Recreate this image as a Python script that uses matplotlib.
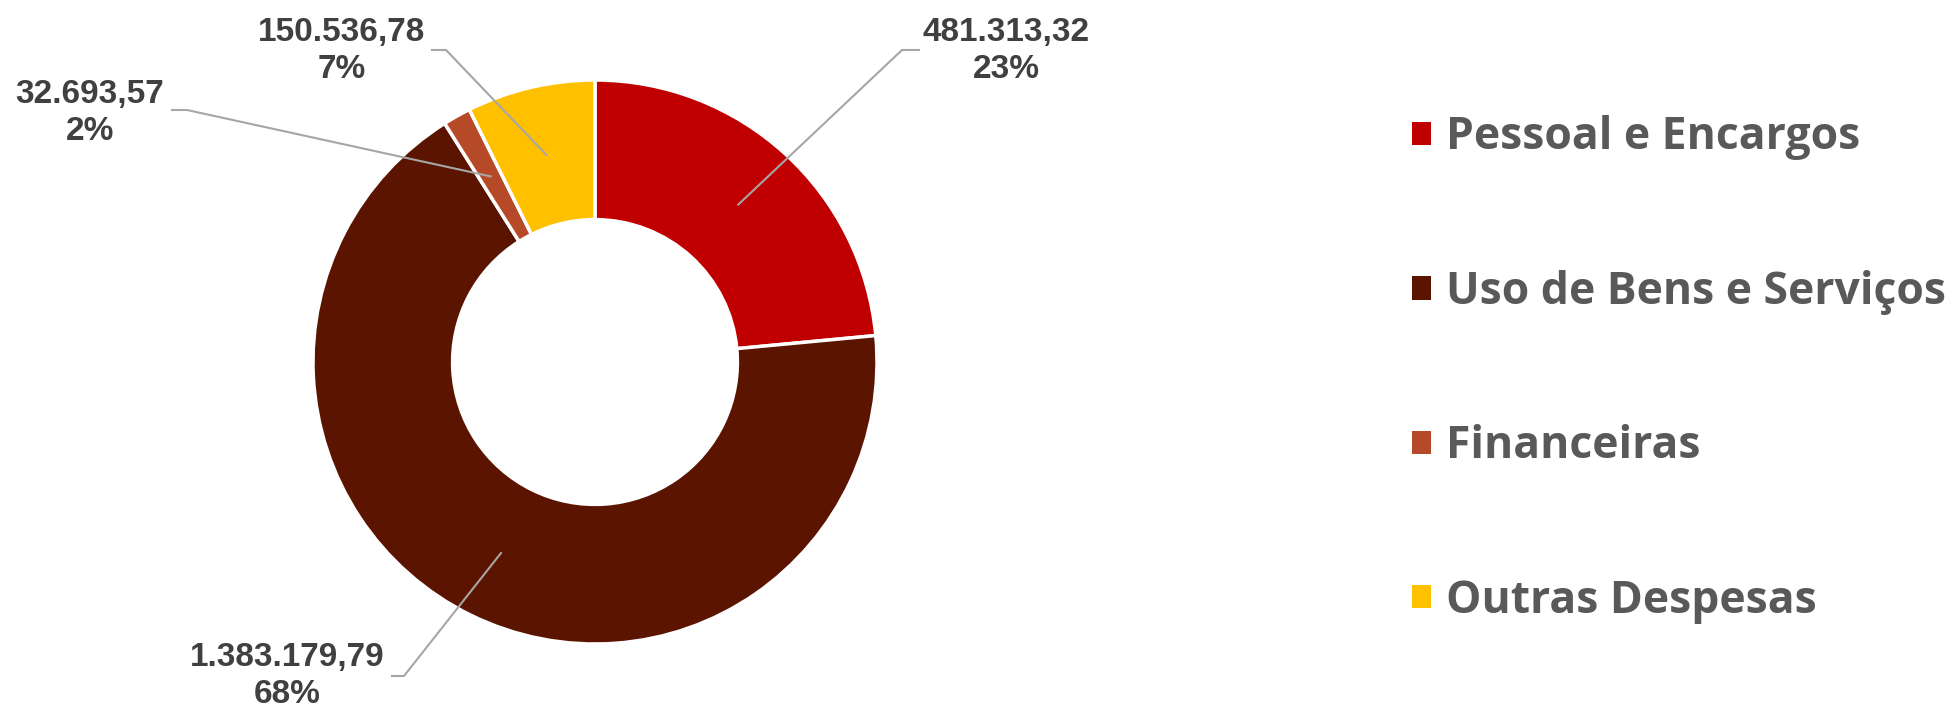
import matplotlib
matplotlib.use("Agg")
import matplotlib.pyplot as plt
from matplotlib.patches import Patch
import numpy as np

categories = ["Pessoal e Encargos", "Uso de Bens e Serviços", "Financeiras", "Outras Despesas"]
values = [481313.32, 1383179.79, 32693.57, 150536.78]
value_labels = ["481.313,32", "1.383.179,79", "32.693,57", "150.536,78"]
pct_labels = ["23%", "68%", "2%", "7%"]
colors = ["#C00000", "#5A1400", "#B64A28", "#FFC000"]

W, H = 1959, 707
fig = plt.figure(figsize=(W / 100, H / 100), dpi=100)

cx, cy, R = 595, 362, 282
ax = fig.add_axes([(cx - R) / W, (H - cy - R) / H, 2 * R / W, 2 * R / H])

wedges, _ = ax.pie(values, colors=colors, startangle=90, counterclock=False, radius=1,
                   wedgeprops=dict(width=0.495, edgecolor="white", linewidth=2.5))
ax.set_xlim(-1, 1)
ax.set_ylim(-1, 1)
ax.set_aspect("auto")
ax.axis("off")

def px(x, y):
    return ((x - cx) / R, (cy - y) / R)

# label text centre, elbow, horizontal end (pixel layout)
layout = [
    ((1006, 51), (902, 50), (919, 50)),
    ((287, 676), (404, 676), (392, 676)),
    ((90, 113), (187, 110), (172, 110)),
    ((342, 51), (446, 50), (432, 50)),
]

for w, vl, pl, (tc, el, he) in zip(wedges, value_labels, pct_labels, layout):
    ang = np.deg2rad((w.theta1 + w.theta2) / 2)
    r0 = 0.755
    sx, sy = r0 * np.cos(ang), r0 * np.sin(ang)
    ex, ey = px(*el)
    hx, hy = px(*he)
    ax.plot([sx, ex, hx], [sy, ey, hy], color="#A6A6A6", lw=1.5, clip_on=False)
    tx, ty = px(*tc)
    ax.text(tx, ty, f"{vl}\n{pl}", ha="center", va="center", fontsize=24,
            fontweight="bold", family="Liberation Sans", color="#404040",
            linespacing=1.27, clip_on=False)

handles = [Patch(facecolor=c, edgecolor="none") for c in colors]
fig.legend(handles, categories, loc="center left",
           bbox_to_anchor=(1412 / W, (H - 369.5) / H), frameon=False,
           prop=dict(family="Open Sans", weight="bold", size=32),
           labelcolor="#595959", handlelength=0.43, handleheight=0.43,
           handletextpad=0.34, labelspacing=2.46, borderpad=0, borderaxespad=0)

fig.savefig("out.png", dpi=100, facecolor="white")
